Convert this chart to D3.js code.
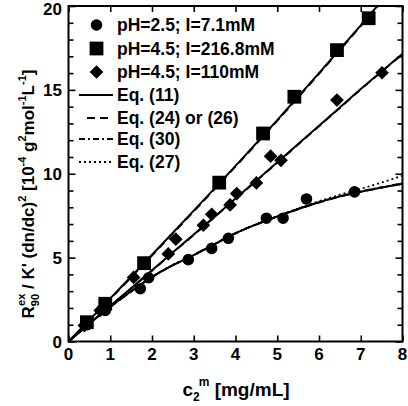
<!DOCTYPE html>
<html><head><meta charset="utf-8">
<script src="https://cdn.jsdelivr.net/npm/d3@7"></script>
<style>body{margin:0;background:#fff}svg{display:block}text{font-family:"Liberation Sans",Arial,sans-serif;font-weight:bold;fill:#000}</style>
</head><body><div id="chart"></div>
<script>
// data
const circleData = [[0.45,1.0],[0.88,1.85],[1.72,3.15],[1.92,3.8],[2.87,4.88],[3.43,5.55],[3.83,6.15],[4.74,7.35],[5.14,7.35],[5.7,8.5],[6.85,8.92]];
const squareData = [[0.44,1.15],[0.88,2.25],[1.81,4.67],[3.61,9.47],[4.66,12.4],[5.41,14.59],[6.43,17.37],[7.19,19.27]];
const diamondData = [[0.38,0.95],[0.76,1.85],[1.56,3.82],[2.39,5.22],[2.57,6.1],[3.23,6.93],[3.43,7.58],[3.87,8.14],[4.03,8.82],[4.5,9.45],[4.84,11.05],[5.09,10.8],[6.43,14.39],[7.51,16.02]];
const fitX = [0,0.5,1,1.5,2,2.5,3,3.5,4,4.5,5,5.5,6,6.5,7,7.5,8];
const circleEq11 = [0,1.07,2.08,3.0,3.85,4.55,5.15,5.8,6.45,6.98,7.45,7.9,8.3,8.65,8.93,9.18,9.41];
const circleEq24 = [0,1.05,2.05,2.97,3.83,4.55,5.17,5.82,6.45,6.97,7.44,7.88,8.28,8.63,8.92,9.17,9.4];
const circleEq30 = [0,1.06,2.06,2.98,3.84,4.56,5.16,5.81,6.46,6.99,7.46,7.91,8.31,8.66,8.95,9.2,9.43];
const circleEq27 = [0,1.07,2.08,3.0,3.85,4.55,5.15,5.8,6.45,6.98,7.46,7.93,8.36,8.75,9.1,9.48,9.88];
const squareEq11 = [0,1.28,2.57,3.87,5.17,6.48,7.8,9.13,10.47,11.83,13.2,14.6,16.0,17.42,18.85,20.3,21.8];
const squareEq24 = [0,1.26,2.53,3.82,5.12,6.43,7.75,9.08,10.42,11.78,13.15,14.55,15.95,17.37,18.8,20.25,21.75];
const diamondEq11 = [0,1.06,2.12,3.18,4.25,5.32,6.38,7.45,8.52,9.6,10.68,11.77,12.86,13.95,15.05,16.1,17.15];
const diamondEq24 = [0,1.05,2.1,3.16,4.22,5.29,6.35,7.42,8.49,9.57,10.65,11.74,12.83,13.92,15.02,16.08,17.13];
const xTicks = [0,1,2,3,4,5,6,7,8];
const yTicks = [0,5,10,15,20];
const legendLabels = ["pH=2.5; I=7.1mM","pH=4.5; I=216.8mM","pH=4.5; I=110mM"];
const eqLabels = ["Eq. (11)","Eq. (24) or (26)","Eq. (30)","Eq. (27)"];

const W=408,H=406;
const svg=d3.select("#chart").append("svg").attr("width",W).attr("height",H);
const x=d3.scaleLinear().domain([0,8]).range([68.5,402.5]);
const y=d3.scaleLinear().domain([0,20]).range([341.5,6]);

svg.append("clipPath").attr("id","clip").append("rect")
  .attr("x",x(0)).attr("y",y(20)).attr("width",x(8)-x(0)).attr("height",y(0)-y(20));

// axes with inward ticks
const minorY=d3.range(0,21,1), minorX=d3.range(0,9,1);
const gB=svg.append("g").attr("transform",`translate(0,${y(0)})`)
  .call(d3.axisBottom(x).tickValues(minorX).tickSize(-6).tickFormat(""));
const gT=svg.append("g").attr("transform",`translate(0,${y(20)})`)
  .call(d3.axisTop(x).tickValues(minorX).tickSize(-6).tickFormat(""));
const gL=svg.append("g").attr("transform",`translate(${x(0)},0)`)
  .call(d3.axisLeft(y).tickValues(minorY).tickSize(-5).tickFormat(""));
const gR=svg.append("g").attr("transform",`translate(${x(8)},0)`)
  .call(d3.axisRight(y).tickValues(minorY).tickSize(-5).tickFormat(""));
[gB,gT,gL,gR].forEach(g=>{g.select(".domain").remove();g.selectAll("line").attr("stroke","#000").attr("stroke-width",1.6);});
gL.selectAll(".tick line").filter(d=>d%5===0).attr("x2",7);
gR.selectAll(".tick line").filter(d=>d%5===0).attr("x2",-7);

svg.append("rect").attr("x",x(0)).attr("y",y(20)).attr("width",x(8)-x(0)).attr("height",y(0)-y(20))
  .attr("fill","none").attr("stroke","#000").attr("stroke-width",2);

// tick labels
svg.append("g").selectAll("text").data(xTicks).join("text")
  .attr("x",d=>x(d)).attr("y",360).attr("text-anchor","middle").attr("font-size",17).text(d=>d);
svg.append("g").selectAll("text").data(yTicks).join("text")
  .attr("x",62).attr("y",d=>Math.max(y(d)+6,15)).attr("text-anchor","end").attr("font-size",17).text(d=>d);

// fit lines
const line=d3.line().x(d=>x(d[0])).y(d=>y(d[1])).curve(d3.curveMonotoneX);
const plot=svg.append("g").attr("clip-path","url(#clip)");
function fit(vals,dash){
  plot.append("path").datum(fitX.map((v,i)=>[v,vals[i]])).attr("d",line)
    .attr("fill","none").attr("stroke","#000").attr("stroke-width",dash?1.8:2).attr("stroke-dasharray",dash||null);
}
const dashes={eq24:"8,5",eq30:"6,3,2,3",eq27:"2,3"};
fit(circleEq11,null); fit(squareEq11,null); fit(diamondEq11,null);
fit(circleEq24,dashes.eq24); fit(squareEq24,dashes.eq24); fit(diamondEq24,dashes.eq24);
fit(circleEq30,dashes.eq30);
fit(circleEq27,dashes.eq27);

// markers
const sym={circle:d3.symbol(d3.symbolCircle,105),square:d3.symbol(d3.symbolSquare,190),diamond:d3.symbol(d3.symbolDiamond2,120)};
function marks(data,s){
  svg.append("g").selectAll("path").data(data).join("path")
    .attr("transform",d=>`translate(${x(d[0])},${y(d[1])})`).attr("d",s).attr("fill","#000");
}
marks(circleData,sym.circle); marks(squareData,sym.square); marks(diamondData,sym.diamond);

// legend
const lg=svg.append("g");
const symList=[sym.circle,sym.square,sym.diamond];
const rowY=[25,48.5,72,95,118,139,162];
legendLabels.forEach((t,i)=>{
  lg.append("path").attr("transform",`translate(96.5,${rowY[i]})`).attr("d",symList[i]).attr("fill","#000");
  lg.append("text").attr("x",117).attr("y",rowY[i]+6.3).attr("font-size",17.5).text(t);
});
const lgDash=[null,dashes.eq24,dashes.eq30,dashes.eq27];
const lgStart=[79,87,79,79];
eqLabels.forEach((t,i)=>{
  const yy=rowY[i+3];
  lg.append("line").attr("x1",lgStart[i]).attr("x2",113).attr("y1",yy).attr("y2",yy)
    .attr("stroke","#000").attr("stroke-width",1.8).attr("stroke-dasharray",lgDash[i]);
  lg.append("text").attr("x",117).attr("y",yy+6.3).attr("font-size",17.5).text(t);
});

// axis titles
const xt=svg.append("text").attr("x",236).attr("y",396).attr("text-anchor","middle").attr("font-size",19);
xt.append("tspan").text("c");
xt.append("tspan").attr("font-size",12).attr("dy",5).text("2");
xt.append("tspan").attr("font-size",12).attr("dy",-15).attr("dx",-1).text("m");
xt.append("tspan").attr("dy",10).text(" [mg/mL]");

const yt=svg.append("text").attr("transform","translate(34,194) rotate(-90)").attr("text-anchor","middle").attr("font-size",17);
yt.append("tspan").text("R");
yt.append("tspan").attr("font-size",11).attr("dy",5).text("90");
yt.append("tspan").attr("font-size",11).attr("dy",-14).attr("dx",-12).text("ex");
yt.append("tspan").attr("dy",9).text(" / K' (dn/dc)");
yt.append("tspan").attr("font-size",11).attr("dy",-8).text("2");
yt.append("tspan").attr("dy",8).text("  [10");
yt.append("tspan").attr("font-size",11).attr("dy",-8).text("-4");
yt.append("tspan").attr("dy",8).text(" g");
yt.append("tspan").attr("font-size",11).attr("dy",-8).text("2");
yt.append("tspan").attr("dy",8).text("mol");
yt.append("tspan").attr("font-size",11).attr("dy",-8).text("-1");
yt.append("tspan").attr("dy",8).text("L");
yt.append("tspan").attr("font-size",11).attr("dy",-8).text("-1");
yt.append("tspan").attr("dy",8).text("]");
</script></body></html>
